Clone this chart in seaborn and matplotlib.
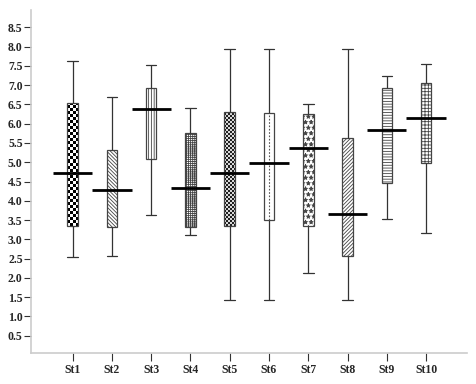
import numpy as np
import pandas as pd
import matplotlib
matplotlib.use("Agg")
import matplotlib.pyplot as plt
import seaborn as sns

# values (high / box top / close / box bottom / low)
stations = ["St1", "St2", "St3", "St4", "St5", "St6", "St7", "St8", "St9", "St10"]
high = [7.63, 6.70, 7.51, 6.41, 7.95, 7.95, 6.51, 7.95, 7.25, 7.55]
upper = [6.55, 5.33, 6.92, 5.77, 6.31, 6.27, 6.24, 5.62, 6.92, 7.05]
close = [4.72, 4.29, 6.38, 4.32, 4.73, 4.97, 5.36, 3.65, 5.84, 6.15]
lower = [3.34, 3.32, 5.08, 3.33, 3.35, 3.49, 3.35, 2.58, 4.46, 4.97]
low = [2.54, 2.57, 3.64, 3.12, 1.43, 1.43, 2.13, 1.43, 3.54, 3.17]
hatches = ["", "\\" * 9, "|" * 6, "+" * 8, "",
           "", "***", "/" * 9, "-" * 6, "+" * 5]

BOX_W = 0.27


def checker_fill(ax, patch, i, cell_px, colors):
    """fill a box with a checkerboard clipped to it, box edge kept on top"""
    dx = cell_px / 39.3
    dy = cell_px / 38.55
    ncol = int(np.ceil(BOX_W / dx))
    nrow = int(np.ceil((upper[i] - lower[i]) / dy))
    img = np.indices((nrow, ncol)).sum(axis=0) % 2
    cmap = matplotlib.colors.ListedColormap(colors)
    x0 = i - BOX_W / 2
    patch.set_facecolor("none")
    im = ax.imshow(img, cmap=cmap, interpolation="nearest", aspect="auto",
                   origin="lower",
                   extent=(x0, x0 + ncol * dx, lower[i], lower[i] + nrow * dy),
                   zorder=patch.get_zorder() - 0.1)
    im.set_clip_path(patch)


def main():
    sns.set_style("white")
    plt.rcParams["font.family"] = ["Liberation Serif", "DejaVu Serif"]
    plt.rcParams["hatch.linewidth"] = 0.6

    rows = []
    for st, vals in zip(stations, zip(low, lower, close, upper, high)):
        for v in vals:
            rows.append({"station": st, "value": v})
    df = pd.DataFrame(rows)

    fig = plt.figure(figsize=(4.77, 3.84), dpi=100)
    ax = fig.add_axes([0.065, 0.0815, 0.914, 0.8925])

    sns.boxplot(df, x="station", y="value", order=stations, whis=(0, 100),
                width=BOX_W, color="white", linecolor="#333333", linewidth=0.9,
                showfliers=False, medianprops={"linewidth": 0},
                capwidths=BOX_W, ax=ax)

    boxes = list(ax.patches)
    for patch, h in zip(boxes, hatches):
        patch.set_hatch(h)
        patch.set_edgecolor("#444444")

    checker_fill(ax, boxes[0], 0, 3.0, ["white", "black"])
    checker_fill(ax, boxes[4], 4, 2.0, ["#d8d8d8", "#202020"])

    xs = np.arange(len(stations))
    # St6 has a dotted line running up the middle of its box
    ax.vlines(xs[5], lower[5], upper[5], color="#555555", lw=0.8,
              linestyles=(0, (1.5, 1.5)), zorder=3)
    ax.hlines(close, xs - 0.5, xs + 0.5, color="black", lw=2, zorder=5)

    ax.set_xlim(-1.06, 10.04)
    ax.set_ylim(0.06, 8.95)
    ax.set_yticks(np.arange(0.5, 8.51, 0.5))
    ax.set_yticklabels(["%.1f" % v for v in np.arange(0.5, 8.51, 0.5)])
    ax.set_xlabel("")
    ax.set_ylabel("")

    sns.despine(ax=ax)
    for side in ["left", "bottom"]:
        ax.spines[side].set_color("#cccccc")
        ax.spines[side].set_linewidth(1.2)

    ax.tick_params(axis="y", left=True, length=5, width=0.8, color="#333333",
                   pad=1, labelsize=8.5)
    ax.tick_params(axis="x", bottom=True, length=6, width=0.8, color="#333333",
                   pad=2, labelsize=8.5)
    for lab in ax.get_xticklabels() + ax.get_yticklabels():
        lab.set_fontweight("bold")

    fig.savefig("out.png", dpi=100)


if __name__ == "__main__":
    main()
